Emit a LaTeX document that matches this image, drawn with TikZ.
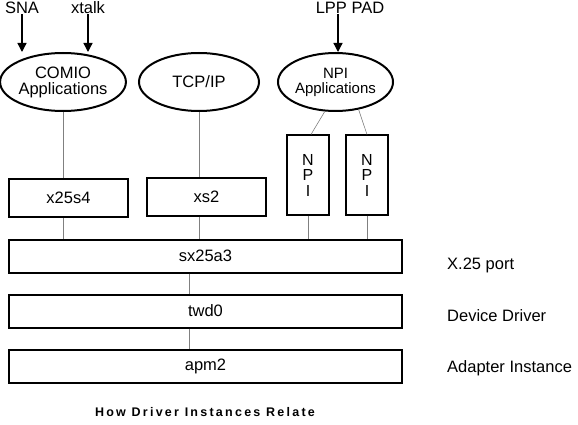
\documentclass[tikz,border=0pt]{standalone}
\usepackage{fontspec}
\setmainfont{Liberation Sans}
\usetikzlibrary{positioning}
\usetikzlibrary{shapes.geometric}
\usetikzlibrary{arrows.meta}

\begin{document}
\begin{tikzpicture}[x=1pt,y=-1pt,
                    node distance=20pt,
                    every node/.style={inner sep=0pt,
                      text=black,
                      font=\fontsize{16.5}{17}\selectfont},
                    app/.style={draw,
                      ellipse,
                      line width=2pt,
                      minimum width=120pt,
                      minimum height=58pt,
                      align=center},
                    layer/.style={draw,
                      rectangle,
                      line width=2pt,
                      minimum width=119pt,
                      minimum height=38pt},
                    port/.style={draw,
                      rectangle,
                      line width=2pt,
                      minimum width=393pt,
                      minimum height=33pt},
                    npibox/.style={draw,
                      rectangle,
                      line width=2pt,
                      minimum width=42pt,
                      minimum height=79pt,
                      align=center,
                      font=\fontsize{16}{15.5}\selectfont},
                    link/.style={gray,line width=0.6pt},
                    feed/.style={line width=1.3pt,-{Triangle[length=9pt,width=9pt]}}]
\useasboundingbox (0,0) rectangle (578,425);
% applications
\node (comio) [app,font=\fontsize{16.5}{16}\selectfont] at (63,82) {COMIO\\Applications};
\node (tcpip) [app] at (199,82) {TCP/IP};
\node (npiapp) [app,minimum width=115pt,font=\fontsize{15}{15}\selectfont] at (335.5,82) {NPI\\Applications};
% inputs
\node (sna) at (22,8) {SNA};
\node (xtalk) at (88,8) {xtalk};
\node (lpp) at (350,8) {LPP PAD};
\draw[feed] (sna.south) -- (sna.south |- comio.north);
\draw[feed] (xtalk.south) -- (xtalk.south |- comio.north);
\draw[feed] (lpp.south -| 338,0) -- (npiapp.north -| 338,0);
% upper modules
\node (x25s4) [layer] at (68.5,198) {x25s4};
\node (xs2) [layer] at (206.5,196.5) {xs2};
\node (npi1) [npibox] at (308,175) {N\\P\\I};
\node (npi2) [npibox] at (367,175) {N\\P\\I};
% stack
\node (sx25a3) [port] at (205.5,256) {sx25a3};
\node (twd0) [port,below=of sx25a3] {twd0};
\node (apm2) [port,below=of twd0] {apm2};
\node (portlbl) [anchor=west] at (447,265) {X.25 port};
\node (drvlbl) [anchor=west] at (447,316) {Device Driver};
\node (adplbl) [anchor=west] at (447,368) {Adapter Instance};
% links
\draw[link] (comio.south) -- (comio.south |- x25s4.north);
\draw[link] (tcpip.south) -- (tcpip.south |- xs2.north);
\draw[link] (npiapp.250) -- ([xshift=3pt]npi1.north);
\draw[link] (npiapp.310) -- (npi2.north);
\draw[link] (x25s4.south -| comio.south) -- (sx25a3.north -| comio.south);
\draw[link] (xs2.south -| tcpip.south) -- (sx25a3.north -| tcpip.south);
\draw[link] (npi1.south) -- (sx25a3.north -| npi1.south);
\draw[link] (npi2.south) -- (sx25a3.north -| npi2.south);
\draw[link] ([xshift=-16.5pt]sx25a3.south) -- ([xshift=-16.5pt]twd0.north);
\draw[link] ([xshift=-16.5pt]twd0.south) -- ([xshift=-16.5pt]apm2.north);
% caption
\node (title) [font=\fontsize{12.5}{13}\selectfont\bfseries\addfontfeature{LetterSpace=18}] at (205,412) {How Driver Instances Relate};
\end{tikzpicture}
\end{document}
